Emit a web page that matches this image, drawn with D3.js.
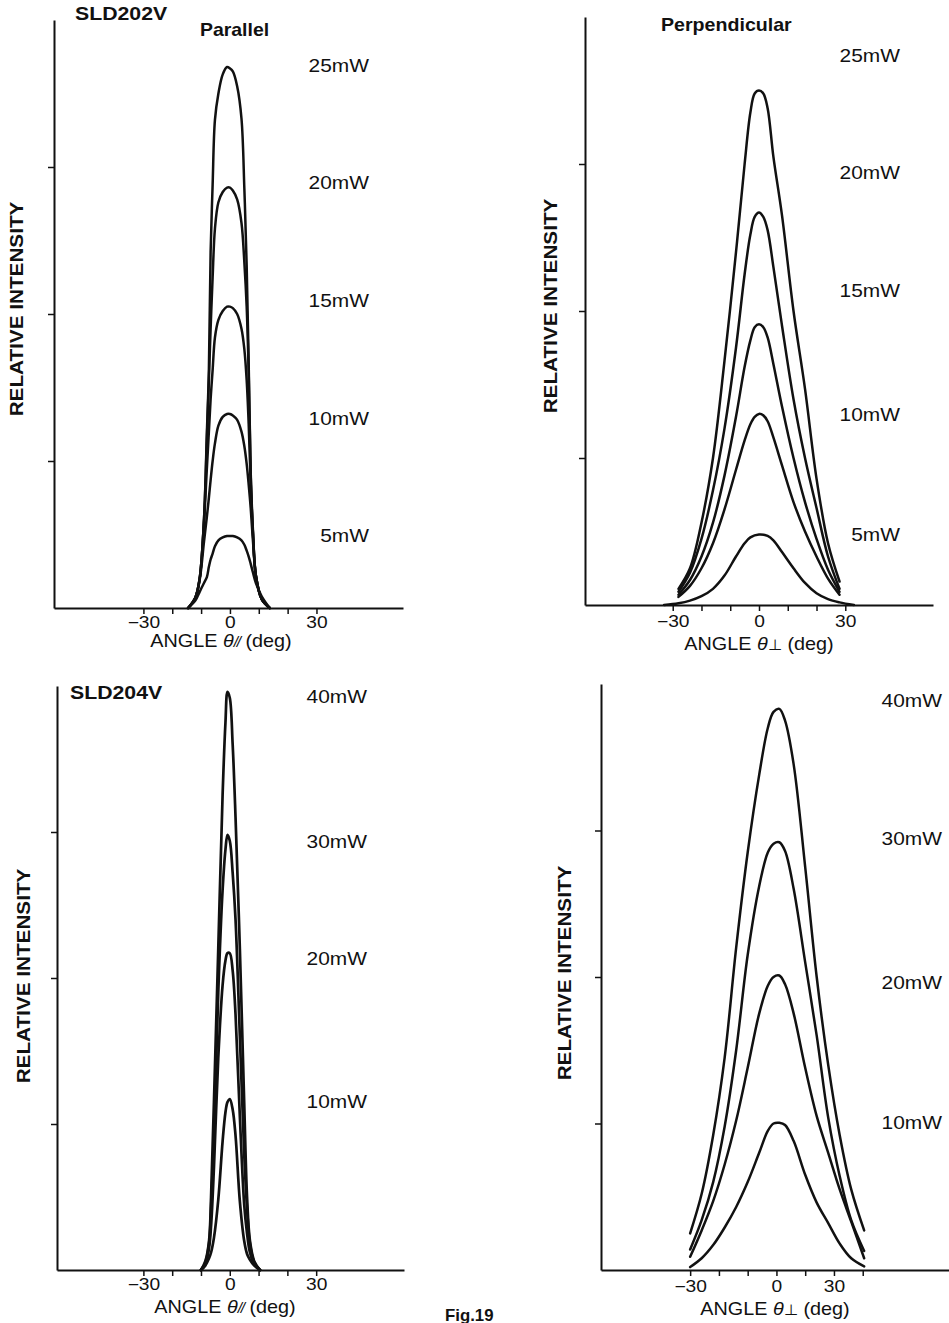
<!DOCTYPE html>
<html>
<head>
<meta charset="utf-8">
<script src="https://cdn.jsdelivr.net/npm/d3@7"></script>
<style>
  html, body { margin: 0; padding: 0; background: #fff; }
  svg { display: block; }
  text { font-family: "Liberation Sans", Arial, Helvetica, sans-serif; fill: #111; }
</style>
</head>
<body>
<svg id="fig" width="949" height="1323"></svg>
<script>
// ---- SLD202V, parallel far-field pattern ----
const angle202Par = [-14.5, -12, -10.5, -9, -8, -7.3, -6.7, -6, -5.2, -4, -2.5, -1, 0, 1, 2.5, 4, 5, 5.8, 6.5, 7.2, 8, 9, 11, 13.8];
const par202_25 = [0, 0.07, 0.2, 0.6, 1.19, 1.62, 2.42, 2.88, 3.32, 3.5, 3.63, 3.68, 3.67, 3.65, 3.55, 3.33, 2.85, 2.33, 1.66, 0.92, 0.52, 0.22, 0.06, 0];
const par202_20 = [0, 0.07, 0.2, 0.6, 1.15, 1.55, 1.9, 2.25, 2.58, 2.76, 2.83, 2.86, 2.86, 2.84, 2.78, 2.62, 2.35, 2.05, 1.6, 0.9, 0.5, 0.22, 0.06, 0];
const par202_15 = [0, 0.07, 0.2, 0.58, 0.95, 1.2, 1.42, 1.62, 1.84, 1.96, 2.02, 2.05, 2.05, 2.04, 2.0, 1.9, 1.76, 1.55, 1.25, 0.85, 0.5, 0.22, 0.06, 0];
const par202_10 = [0, 0.07, 0.19, 0.45, 0.62, 0.75, 0.87, 1.0, 1.12, 1.24, 1.3, 1.32, 1.32, 1.31, 1.28, 1.2, 1.1, 0.98, 0.84, 0.68, 0.45, 0.22, 0.06, 0];
const par202_5  = [0, 0.05, 0.11, 0.17, 0.21, 0.28, 0.33, 0.37, 0.42, 0.46, 0.48, 0.49, 0.49, 0.49, 0.48, 0.46, 0.43, 0.39, 0.35, 0.3, 0.24, 0.17, 0.08, 0];

// ---- SLD202V, perpendicular far-field pattern ----
const angle202Perp = [-28, -24, -20, -16, -12, -8, -5, -3, -1.5, 0, 1.5, 3, 5, 8, 12, 16, 20, 24, 28];
const perp202_25 = [0.11, 0.25, 0.56, 1.0, 1.66, 2.4, 3.0, 3.35, 3.48, 3.5, 3.48, 3.38, 3.05, 2.65, 2.0, 1.47, 0.86, 0.42, 0.16];
const perp202_20 = [0.09, 0.22, 0.45, 0.78, 1.2, 1.75, 2.25, 2.52, 2.64, 2.67, 2.64, 2.55, 2.3, 1.9, 1.4, 1.0, 0.66, 0.33, 0.11];
const perp202_15 = [0.07, 0.17, 0.33, 0.56, 0.88, 1.28, 1.62, 1.8, 1.89, 1.91, 1.89, 1.82, 1.64, 1.35, 1.0, 0.7, 0.45, 0.24, 0.09];
const perp202_10 = [0.055, 0.13, 0.25, 0.42, 0.65, 0.92, 1.12, 1.23, 1.28, 1.3, 1.29, 1.25, 1.14, 0.95, 0.7, 0.5, 0.33, 0.18, 0.07];
const angle202Perp5 = [-33, -28, -24, -20, -16, -12, -8, -5, -3, 0, 3, 5, 8, 12, 16, 20, 24, 28, 33];
const perp202_5  = [0, 0.012, 0.03, 0.06, 0.11, 0.2, 0.33, 0.42, 0.46, 0.48, 0.47, 0.44, 0.36, 0.25, 0.15, 0.08, 0.04, 0.018, 0];

// ---- SLD204V, parallel far-field pattern ----
const angle204Par = [-10, -8.5, -7.2, -6.5, -5.5, -4, -2.5, -1.5, -0.8, 0, 1, 2, 3.5, 5, 6, 7, 8.5, 10.5];
const par204_40 = [0, 0.06, 0.2, 0.5, 1.15, 2.2, 3.25, 3.75, 3.96, 3.92, 3.6, 3.1, 2.2, 1.15, 0.5, 0.2, 0.06, 0];
const par204_30 = [0, 0.05, 0.18, 0.42, 0.9, 1.9, 2.6, 2.88, 2.98, 2.94, 2.72, 2.4, 1.6, 0.8, 0.42, 0.18, 0.05, 0];
const par204_20 = [0, 0.04, 0.15, 0.3, 0.7, 1.45, 1.95, 2.12, 2.17, 2.17, 2.05, 1.75, 1.05, 0.45, 0.25, 0.12, 0.04, 0];
const par204_10 = [0, 0.03, 0.08, 0.12, 0.22, 0.48, 0.88, 1.08, 1.15, 1.17, 1.1, 0.92, 0.47, 0.2, 0.11, 0.07, 0.03, 0];

// ---- SLD204V, perpendicular far-field pattern ----
const angle204Perp = [-30, -26, -22, -18, -14, -10, -6, -3, -1, 1, 3, 6, 10, 14, 18, 22, 26, 30.5];
const perp204_40 = [0.25, 0.52, 0.92, 1.45, 2.2, 2.85, 3.38, 3.7, 3.81, 3.83, 3.75, 3.45, 2.75, 2.0, 1.4, 0.92, 0.55, 0.27];
const perp204_30 = [0.14, 0.34, 0.6, 0.98, 1.5, 2.15, 2.62, 2.85, 2.91, 2.92, 2.86, 2.6, 2.1, 1.6, 1.04, 0.64, 0.34, 0.13];
const perp204_20 = [0.09, 0.27, 0.47, 0.72, 1.02, 1.38, 1.75, 1.94, 2.0, 2.01, 1.95, 1.75, 1.38, 1.05, 0.8, 0.55, 0.33, 0.08];
const perp204_10 = [0.02, 0.08, 0.17, 0.29, 0.43, 0.6, 0.8, 0.95, 1.0, 1.005, 0.99, 0.88, 0.65, 0.46, 0.32, 0.18, 0.08, 0.025];

// ---- labels ----
const powers202 = ["25mW", "20mW", "15mW", "10mW", "5mW"];
const powers204 = ["40mW", "30mW", "20mW", "10mW"];
const angleTicks = [-30, -20, -10, 0, 10, 20, 30];
const tickText = ["\u221230", "", "", "0", "", "", "30"];
const tickText204Perp = ["\u221230", "", "", "0", "", "30", ""];
const intensityTicks = [1, 2, 3];

const svg = d3.select("#fig");
const INK = "#111";

function addText(parent, x, y, str, o = {}) {
  const size = o.size || 19, sx = o.sx || 1.1;
  return parent.append("text")
    .attr("transform", `translate(${x},${y})` + (o.rotate ? ` rotate(${o.rotate})` : "") + ` scale(${sx},1)`)
    .attr("text-anchor", o.anchor || "start")
    .style("font-size", size + "px")
    .style("font-weight", o.weight || "normal")
    .text(str);
}

function angleTitle(parent, x, y, sym) {
  const t = parent.append("text")
    .attr("transform", `translate(${x},${y}) scale(1.1,1)`)
    .attr("text-anchor", "middle")
    .style("font-size", "18px");
  t.append("tspan").text("ANGLE ");
  t.append("tspan").style("font-style", "italic").text("\u03b8");
  if (sym === "par") {
    t.append("tspan").style("font-style", "italic").style("font-size", "14px")
      .style("letter-spacing", "-1px").text("//");
  } else {
    t.append("tspan").style("font-size", "15px").style("font-family", "'DejaVu Sans', sans-serif").text("\u22a5");
  }
  t.append("tspan").text(" (deg)");
}

function drawPanel(p) {
  const g = svg.append("g");
  const x = d3.scaleLinear().domain(p.xDomain).range(p.xRange);
  const y = d3.scaleLinear().domain([0, 4]).range(p.yRange);

  // curves
  const line = d3.line()
    .x(d => x(d[0]))
    .y(d => y(d[1]))
    .curve(d3.curveCatmullRom.alpha(0.5));
  p.series.forEach(s => {
    g.append("path")
      .attr("d", line(d3.zip(s.angles, s.values)))
      .attr("fill", "none")
      .attr("stroke", INK)
      .attr("stroke-width", p.lineWidth)
      .attr("stroke-linejoin", "round")
      .attr("stroke-linecap", "round");
  });

  // angle axis
  const gx = g.append("g")
    .attr("transform", `translate(0,${p.yRange[0]})`)
    .call(d3.axisBottom(x).tickValues(angleTicks)
      .tickFormat((d, i) => p.tickText[i]).tickSizeInner(6).tickSizeOuter(0));
  gx.select(".domain").attr("stroke", INK).attr("stroke-width", 2);
  gx.selectAll(".tick line").attr("stroke", INK).attr("stroke-width", 1.5);
  gx.selectAll(".tick text")
    .attr("y", p.tickY).attr("dy", null)
    .attr("transform", "scale(1.2,1)")
    .style("font-size", "16px");

  // intensity axis
  const gy = g.append("g")
    .attr("transform", `translate(${p.xRange[0]},0)`)
    .call(d3.axisLeft(y).tickValues(intensityTicks).tickFormat("").tickSizeInner(6).tickSizeOuter(0));
  gy.select(".domain").attr("stroke", INK).attr("stroke-width", 2);
  gy.selectAll(".tick line").attr("stroke", INK).attr("stroke-width", 1.5);

  // power labels
  p.powers.forEach((lab, i) => {
    addText(g, p.labelX, p.labelY[i], lab, { anchor: "end", size: 19, sx: 1.1 });
  });

  // axis titles
  addText(g, p.yTitle[0], p.yTitle[1], "RELATIVE INTENSITY",
    { anchor: "middle", size: 18.5, sx: 1.12, weight: "bold", rotate: -90 });
  angleTitle(g, p.xTitle[0], p.xTitle[1], p.sym);
}

drawPanel({
  xDomain: [-61, 60], xRange: [54, 403], yRange: [608, 20], lineWidth: 2.5,
  tickText: tickText, tickY: 20,
  series: [par202_25, par202_20, par202_15, par202_10, par202_5].map(v => ({ angles: angle202Par, values: v })),
  powers: powers202, labelX: 369, labelY: [72, 189, 307, 425, 542],
  yTitle: [23, 309], xTitle: [221, 647], sym: "par"
});

drawPanel({
  xDomain: [-60.5, 60.5], xRange: [585, 933], yRange: [605, 17], lineWidth: 2.5,
  tickText: tickText, tickY: 22,
  series: [
    { angles: angle202Perp, values: perp202_25 },
    { angles: angle202Perp, values: perp202_20 },
    { angles: angle202Perp, values: perp202_15 },
    { angles: angle202Perp, values: perp202_10 },
    { angles: angle202Perp5, values: perp202_5 }
  ],
  powers: powers202, labelX: 900, labelY: [62, 179, 297, 421, 541],
  yTitle: [557, 306], xTitle: [759, 650], sym: "perp"
});

drawPanel({
  xDomain: [-60, 60.5], xRange: [57, 404], yRange: [1270, 686], lineWidth: 2.7,
  tickText: tickText, tickY: 20,
  series: [par204_40, par204_30, par204_20, par204_10].map(v => ({ angles: angle204Par, values: v })),
  powers: powers204, labelX: 367, labelY: [703, 848, 965, 1108],
  yTitle: [30, 976], xTitle: [225, 1313], sym: "par"
});

drawPanel({
  xDomain: [-61, 60], xRange: [601, 949], yRange: [1270, 684], lineWidth: 2.5,
  tickText: tickText204Perp, tickY: 22,
  series: [perp204_40, perp204_30, perp204_20, perp204_10].map(v => ({ angles: angle204Perp, values: v })),
  powers: powers204, labelX: 942, labelY: [707, 845, 989, 1129],
  yTitle: [571, 973], xTitle: [775, 1315], sym: "perp"
});

// device and direction headings
addText(svg, 75, 20, "SLD202V", { size: 19, sx: 1.12, weight: "bold" });
addText(svg, 200, 36, "Parallel", { size: 18, sx: 1.08, weight: "bold" });
addText(svg, 661, 31, "Perpendicular", { size: 18, sx: 1.09, weight: "bold" });
addText(svg, 70, 699, "SLD204V", { size: 19, sx: 1.12, weight: "bold" });
addText(svg, 445, 1321, "Fig.19", { size: 16, sx: 1.05, weight: "bold" });
</script>
</body>
</html>
